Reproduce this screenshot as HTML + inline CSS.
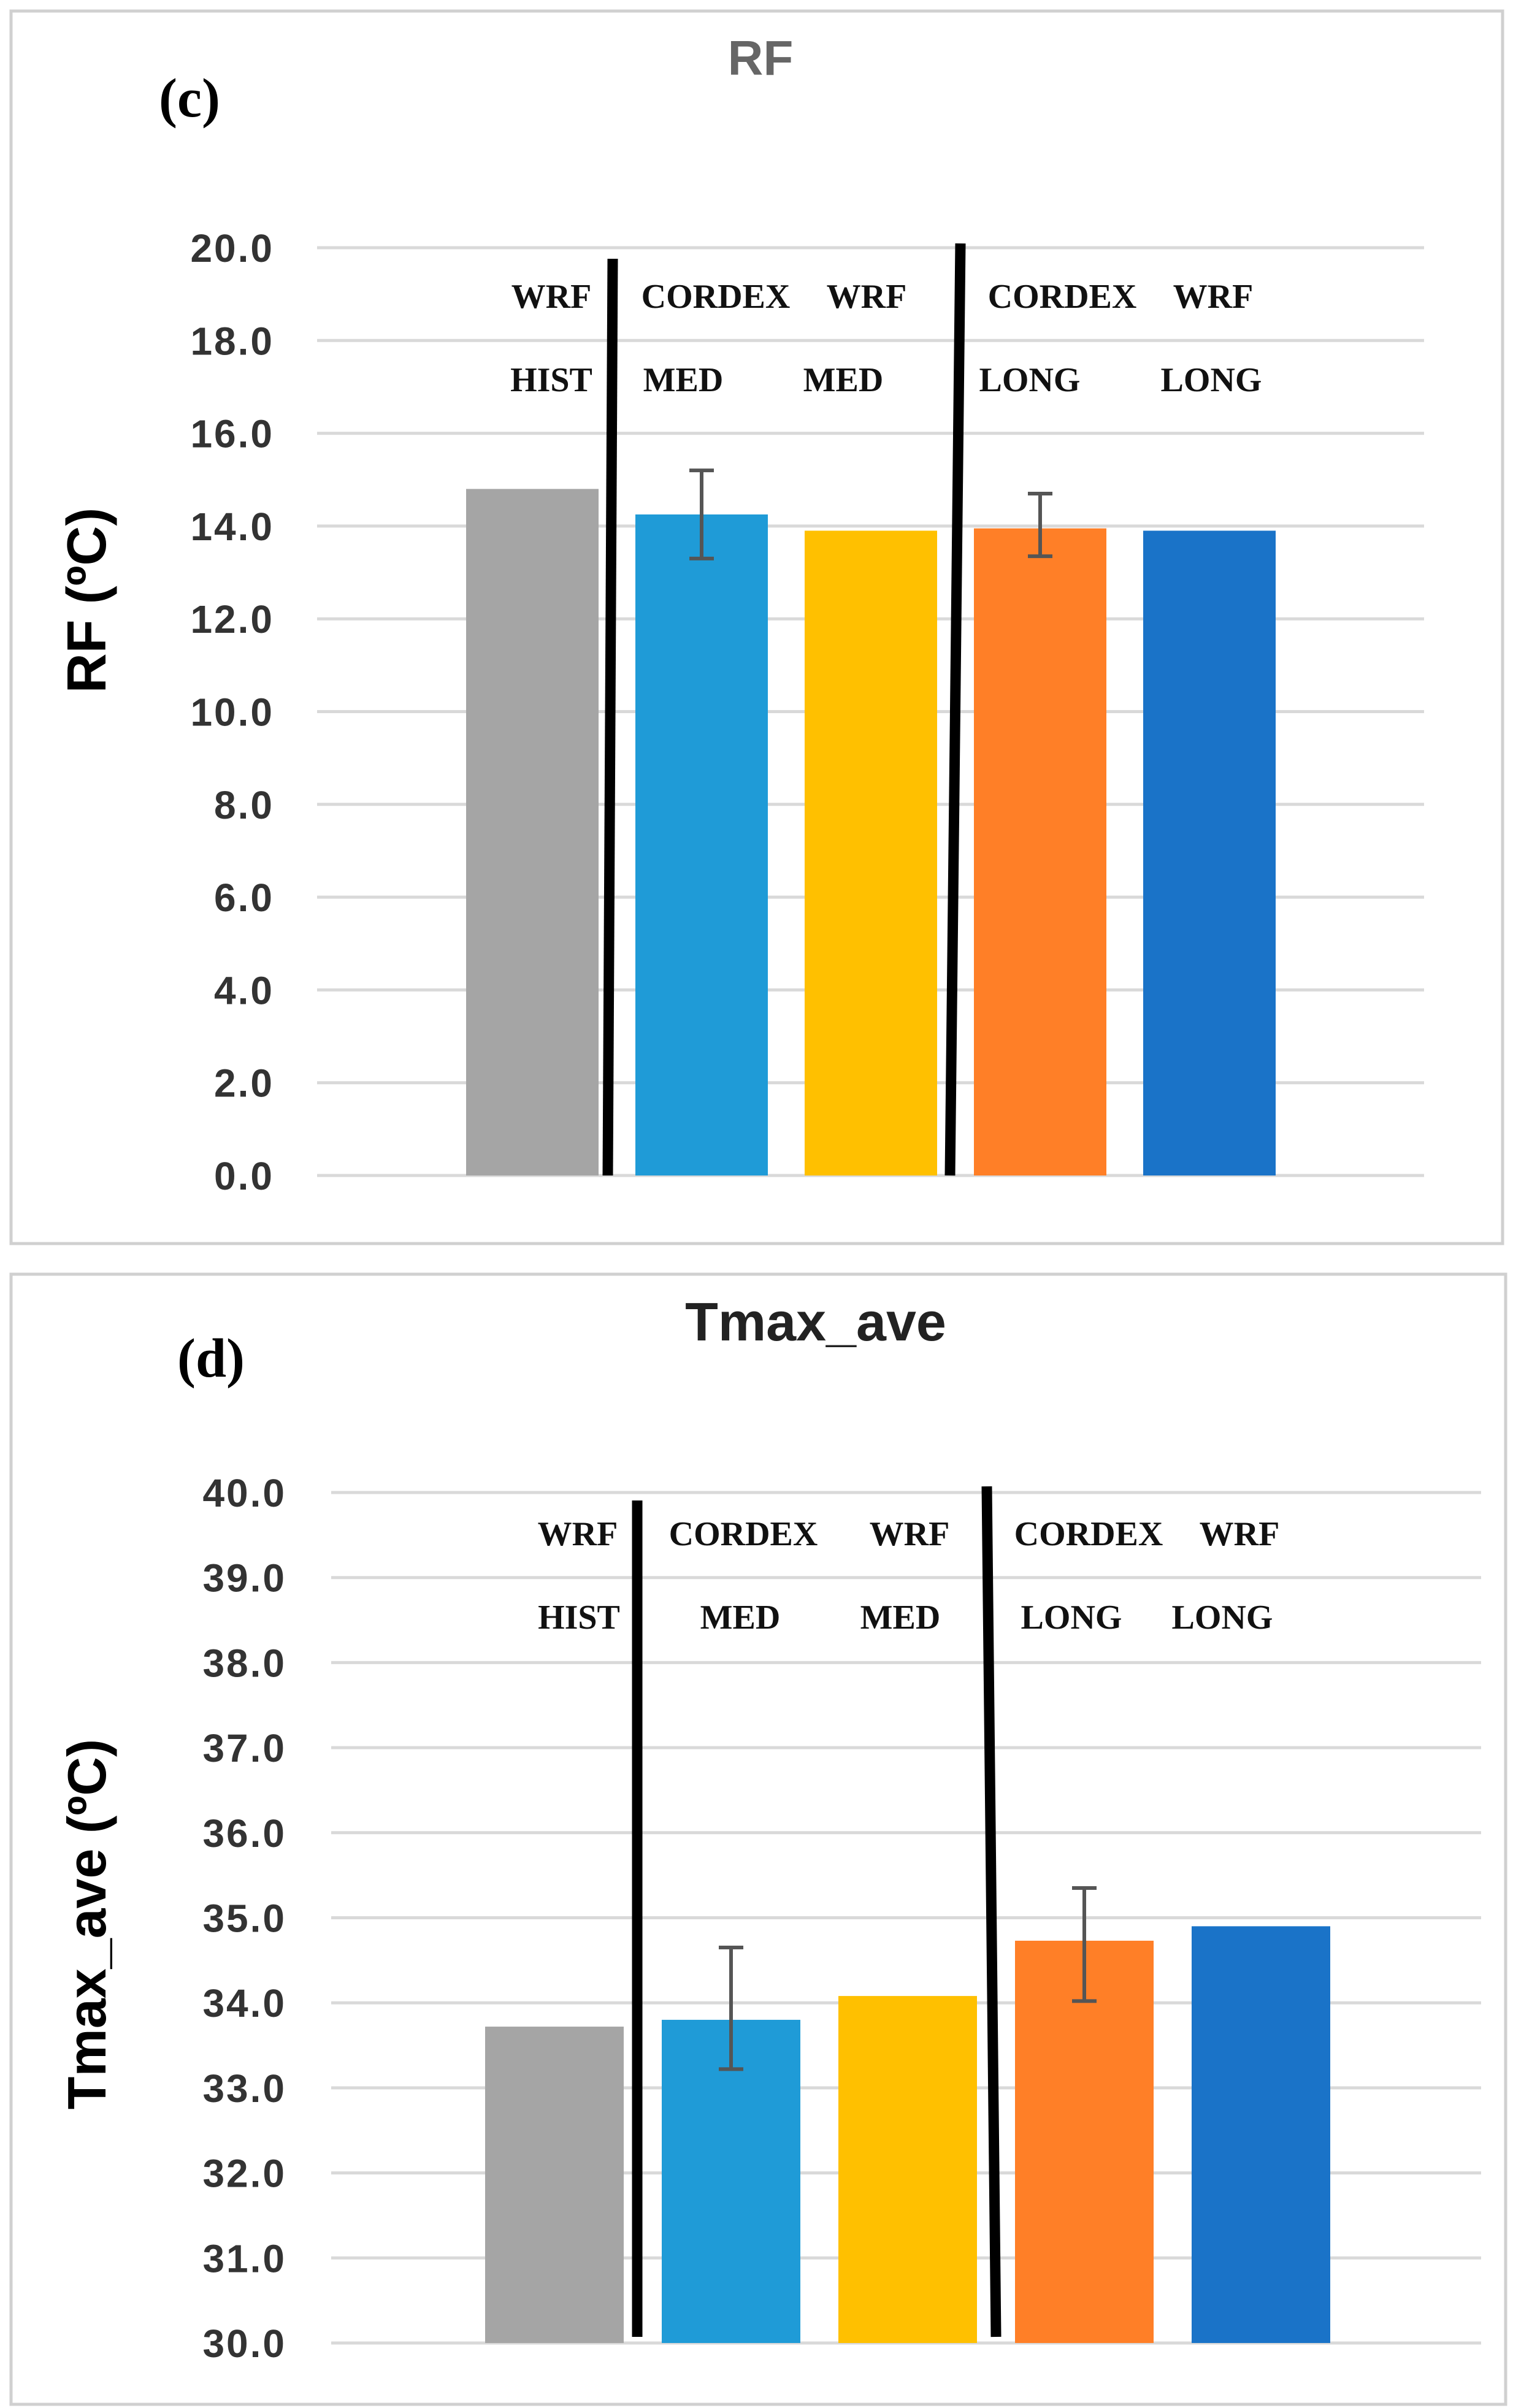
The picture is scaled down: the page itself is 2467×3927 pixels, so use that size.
<!DOCTYPE html>
<html><head><meta charset="utf-8"><style>
html,body{margin:0;padding:0;background:#fff;}
svg{display:block;}
.tick{font-family:"Liberation Sans",sans-serif;font-weight:bold;font-size:64px;letter-spacing:3px;fill:#333;}
.lab{font-family:"Liberation Serif",serif;font-weight:bold;font-size:56px;fill:#111;}
</style></head><body>
<svg id="chart" width="2467" height="3927" xmlns="http://www.w3.org/2000/svg">
<rect x="18" y="18" width="2432" height="2010" fill="#fff" stroke="#d0d0d0" stroke-width="5"/>
<rect x="18" y="2078" width="2437" height="1843" fill="#fff" stroke="#d0d0d0" stroke-width="5"/>
<text x="1240" y="122" text-anchor="middle" font-family="Liberation Sans,sans-serif" font-weight="bold" font-size="80" fill="#666">RF</text>
<text x="309" y="190" text-anchor="middle" font-family="Liberation Serif,serif" font-weight="bold" font-size="90" fill="#000">(c)</text>
<text x="1330" y="2186" text-anchor="middle" font-family="Liberation Sans,sans-serif" font-weight="bold" font-size="88" fill="#222">Tmax_ave</text>
<text x="344" y="2245" text-anchor="middle" font-family="Liberation Serif,serif" font-weight="bold" font-size="90" fill="#000">(d)</text>
<text transform="translate(172,979) rotate(-90)" text-anchor="middle" font-family="Liberation Sans,sans-serif" font-weight="bold" font-size="90" fill="#000">RF (ºC)</text>
<text transform="translate(172,3138) rotate(-90)" text-anchor="middle" font-family="Liberation Sans,sans-serif" font-weight="bold" font-size="88" fill="#000">Tmax_ave (ºC)</text>
<g id="pc"></g><g id="pd"></g>
</svg>
<script>
const NS="http://www.w3.org/2000/svg";
const categories=["WRF HIST","CORDEX MED","WRF MED","CORDEX LONG","WRF LONG"];
const colors=["#a5a5a5","#1f9bd7","#ffc000","#ff7f27","#1a73c8"];
const rfValues=[14.8,14.25,13.9,13.95,13.9];
const rfErrLow=[null,13.3,null,13.35,null];
const rfErrHigh=[null,15.2,null,14.7,null];
const rfTicks=["0.0","2.0","4.0","6.0","8.0","10.0","12.0","14.0","16.0","18.0","20.0"];
const tmValues=[33.72,33.8,34.08,34.73,34.9];
const tmErrLow=[null,33.22,null,34.02,null];
const tmErrHigh=[null,34.65,null,35.35,null];
const tmTicks=["30.0","31.0","32.0","33.0","34.0","35.0","36.0","37.0","38.0","39.0","40.0"];
function el(p,t,a){const e=document.createElementNS(NS,t);for(const k in a)e.setAttribute(k,a[k]);p.appendChild(e);return e;}
function draw(g,cfg){
  const y=v=>cfg.y0+(v-cfg.min)/(cfg.max-cfg.min)*(cfg.y1-cfg.y0);
  cfg.ticks.forEach(t=>{const v=parseFloat(t);
    const l=el(g,"line",{x1:cfg.gx0,x2:cfg.gx1,y1:y(v),y2:y(v),stroke:"#d9d9d9","stroke-width":5});
    
    
    const tx=el(g,"text",{x:cfg.tx,y:y(v)+23,"text-anchor":"end",class:"tick"});tx.textContent=t;
    
    
  });
  cfg.vals.forEach((v,i)=>{const x=cfg.bx+i*cfg.step;
    const r=el(g,"rect",{x:x,y:y(v),width:cfg.bw,height:y(cfg.min)-y(v),fill:colors[i]});
    
    
    if(cfg.lo[i]!=null){const cx=x+cfg.bw/2;
      const e=el(g,"path",{d:`M${cx},${y(cfg.lo[i])}V${y(cfg.hi[i])}M${cx-20},${y(cfg.lo[i])}h40M${cx-20},${y(cfg.hi[i])}h40`,stroke:"#555","stroke-width":6,fill:"none"});
      
      
    }
  });
  cfg.sep.forEach(s=>{const l=el(g,"line",{x1:s[0],y1:s[1],x2:s[2],y2:s[3],stroke:"#000","stroke-width":17});
    
    });
  cfg.labels.forEach(L=>{const t=el(g,"text",{x:L[0],y:L[1],"text-anchor":"middle",class:"lab"});t.textContent=L[2];
    
    });
}
draw(document.getElementById("pc"),{min:0,max:20,y0:1917,y1:404,gx0:517,gx1:2322,tx:447,ticks:rfTicks,vals:rfValues,lo:rfErrLow,hi:rfErrHigh,bx:760,step:276,bw:216,
  sep:[[999,422,991,1917],[1566,397,1549,1917]],
  labels:[[899,502,"WRF"],[899,638,"HIST"],[1167,502,"CORDEX"],[1114,638,"MED"],[1413,502,"WRF"],[1375,638,"MED"],[1732,502,"CORDEX"],[1679,638,"LONG"],[1978,502,"WRF"],[1975,638,"LONG"]]});
draw(document.getElementById("pd"),{min:30,max:40,y0:3821,y1:2434,gx0:540,gx1:2415,tx:467,ticks:tmTicks,vals:tmValues,lo:tmErrLow,hi:tmErrHigh,bx:791,step:288,bw:226,
  sep:[[1039,2447,1039,3811],[1609,2424,1624,3811]],
  labels:[[942,2520,"WRF"],[944,2656,"HIST"],[1212,2520,"CORDEX"],[1207,2656,"MED"],[1483,2520,"WRF"],[1468,2656,"MED"],[1775,2520,"CORDEX"],[1747,2656,"LONG"],[2021,2520,"WRF"],[1993,2656,"LONG"]]});
</script>
</body></html>
